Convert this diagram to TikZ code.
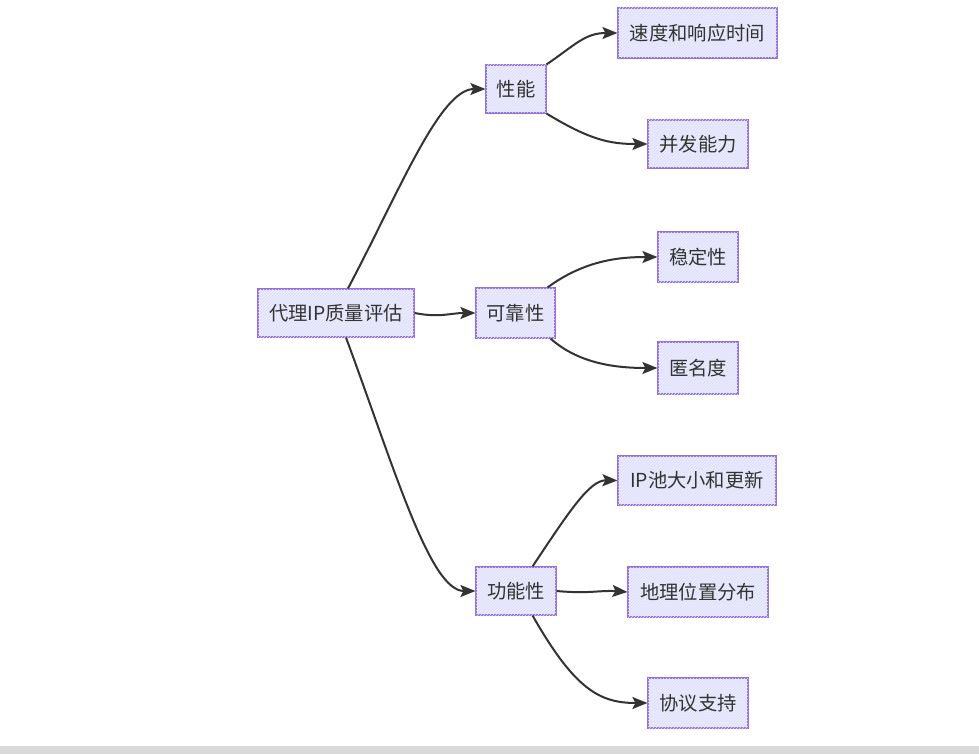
\documentclass[tikz,border=0pt]{standalone}
\usepackage{fontspec}
\setmainfont{Noto Sans CJK SC}
\usetikzlibrary{arrows.meta,patterns}
\definecolor{nodefill}{HTML}{ECECFF}
\definecolor{nodeline}{HTML}{9370DB}
\definecolor{hatch}{HTML}{DCDCF8}
\definecolor{txt}{HTML}{333333}
\definecolor{barcol}{HTML}{D9D9D9}
\tikzset{
  box/.style={draw=nodeline, line width=1.2pt, fill=nodefill,
    postaction={pattern=north east lines, pattern color=hatch},
    text=txt, inner sep=0pt, align=center,
    font=\fontsize{19.3}{22}\selectfont},
  link/.style={draw=txt, line width=2pt,
    -{Stealth[length=15pt,width=12pt,inset=3pt]}},
}
\begin{document}
\begin{tikzpicture}[x=1pt,y=-1pt]
\useasboundingbox (0,0) rectangle (979,754);
\fill[white] (0,0) rectangle (979,754);
\fill[barcol] (0,746) rectangle (979,754);

\node[box, minimum width=156pt, minimum height=48pt] (root) at (336,313) {代理IP质量评估};
\node[box, minimum width=60pt, minimum height=48pt] (perf) at (516,89) {性能};
\node[box, minimum width=79pt, minimum height=50pt] (rel) at (515.5,313) {可靠性};
\node[box, minimum width=80pt, minimum height=48pt] (func) at (516,591) {功能性};
\node[box, minimum width=159pt, minimum height=50pt] (speed) at (697.5,33) {速度和响应时间};
\node[box, minimum width=100pt, minimum height=48pt] (conc) at (698,144) {并发能力};
\node[box, minimum width=80pt, minimum height=50pt] (stab) at (698,257) {稳定性};
\node[box, minimum width=80pt, minimum height=52pt] (anon) at (698,368) {匿名度};
\node[box, minimum width=158pt, minimum height=49pt] (pool) at (697,480.5) {IP池大小和更新};
\node[box, minimum width=140pt, minimum height=50pt] (geo) at (698,592) {地理位置分布};
\node[box, minimum width=100pt, minimum height=50pt] (proto) at (698,703) {协议支持};

\draw[link] ([xshift=12pt]root.north) .. controls (400,190) and (440,89) .. (perf.west);
\draw[link] (root.east) .. controls (440,318) and (450,313) .. (rel.west);
\draw[link] ([xshift=10pt]root.south) .. controls (395,470) and (430,591) .. (func.west);
\draw[link] (perf.north east) .. controls (575,45) and (585,33) .. (speed.west);
\draw[link] (perf.south east) .. controls (590,140) and (610,144) .. (conc.west);
\draw[link] ([xshift=-8pt]rel.north east) .. controls (585,260) and (620,257) .. (stab.west);
\draw[link] ([xshift=-5pt]rel.south east) .. controls (580,365) and (620,368) .. (anon.west);
\draw[link] ([xshift=-24pt]func.north east) .. controls (570,510) and (590,480) .. (pool.west);
\draw[link] (func.east) .. controls (590,594) and (600,590) .. (geo.west);
\draw[link] ([xshift=-24pt]func.south east) .. controls (575,690) and (600,703) .. (proto.west);
\end{tikzpicture}
\end{document}
